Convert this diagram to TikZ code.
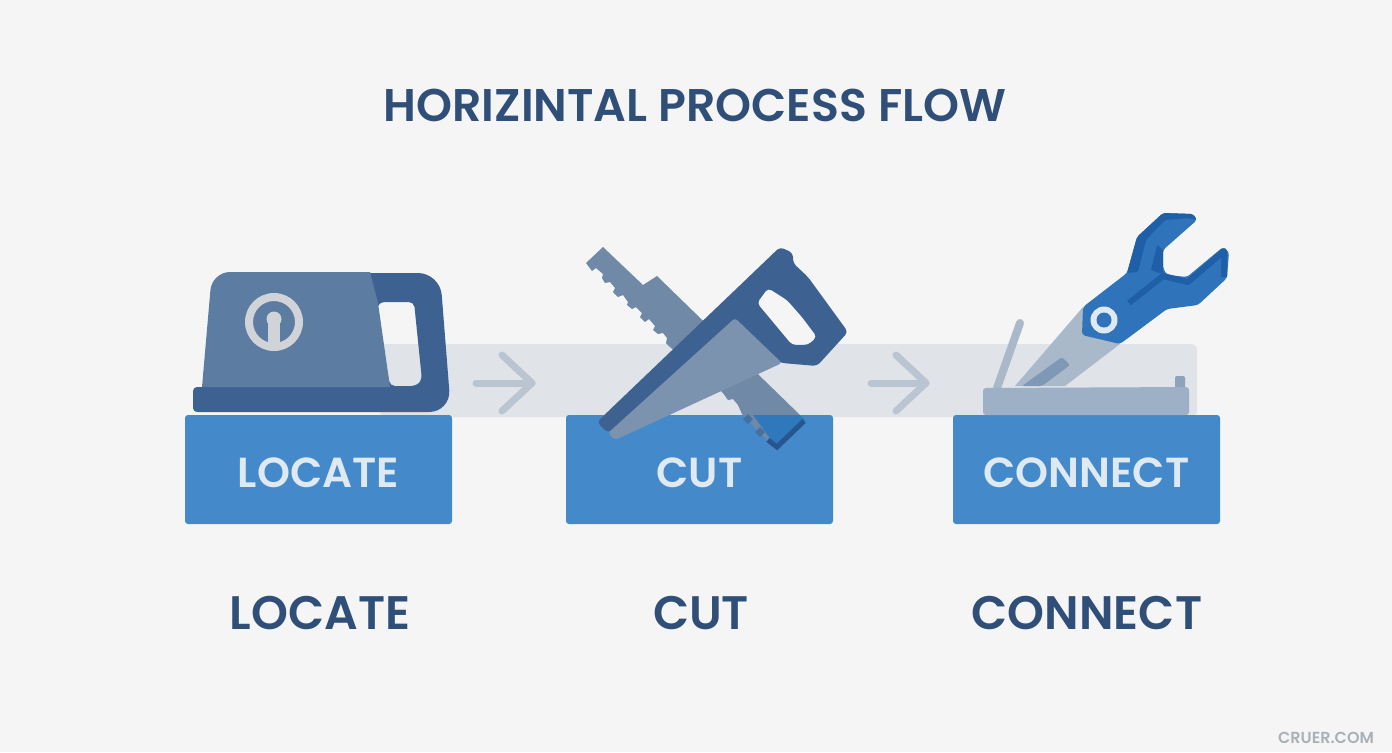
\documentclass[tikz,border=0pt]{standalone}
\usepackage{fontspec}
\setmainfont{Poppins SemiBold}
\definecolor{paper}{HTML}{F5F5F6}
\definecolor{band}{HTML}{E0E3E8}
\definecolor{chevron}{HTML}{BAC5D1}
\definecolor{boxblue}{HTML}{4489CA}
\definecolor{boxtext}{HTML}{DFE9F2}
\definecolor{navy}{HTML}{2F4F78}
\definecolor{toolbody}{HTML}{5D7CA1}
\definecolor{tooldark}{HTML}{3D6190}
\definecolor{ringgrey}{HTML}{D0D4D9}
\definecolor{sawback}{HTML}{7089A6}
\definecolor{sawblade}{HTML}{7B93AE}
\definecolor{sawtip}{HTML}{2F78BB}
\definecolor{sawgrip}{HTML}{27568F}
\definecolor{sawtooth}{HTML}{46719F}
\definecolor{barblue}{HTML}{9DB0C5}
\definecolor{pegblue}{HTML}{8EA3BA}
\definecolor{bladegrey}{HTML}{A9B9CA}
\definecolor{slotblue}{HTML}{7E98B5}
\definecolor{headblue}{HTML}{2F74BB}
\definecolor{headdark}{HTML}{1F5FA8}
\definecolor{mark}{HTML}{A9B1B8}
\begin{document}
\begin{tikzpicture}[
	                  x = 0.5pt,
	                  y = -0.5pt,
	 labelbox/.style = {fill=boxblue, rounded corners=1.5pt, minimum width=133.5pt, minimum height=54.5pt, inner sep=0pt, text=boxtext, text height=17.5pt, text depth=0pt, font=\fontsize{21}{21}\selectfont},
	 steptext/.style = {text=navy, inner sep=0pt, font=\fontsize{23.5}{23.5}\selectfont},
	  flowarr/.style = {draw=chevron, line width=3.5pt, line cap=round, line join=round},
	                     ]
		\fill[paper] (0,0) rectangle (1392,752);
		\useasboundingbox (0,0) rectangle (1392,752);
		\node[text=navy, inner sep=0pt, font=\fontsize{22.9}{22.9}\selectfont] (title) at (695,105) {HORIZINTAL PROCESS FLOW};
		% band behind the tools
		\fill[band, rounded corners=3pt] (380,344) rectangle (1197,417);
		\coordinate (arrowAfrom) at (476,383);
		\coordinate (arrowAto) at (532,383);
		\coordinate (arrowBfrom) at (871,383);
		\coordinate (arrowBto) at (926,383);
		\draw[flowarr] (arrowAfrom) -- (arrowAto);
		\draw[flowarr] ([shift={(-30,-28)}]arrowAto) -- (arrowAto) -- ([shift={(-30,28)}]arrowAto);
		\draw[flowarr] (arrowBfrom) -- (arrowBto);
		\draw[flowarr] ([shift={(-30,-28)}]arrowBto) -- (arrowBto) -- ([shift={(-30,28)}]arrowBto);
		\node[labelbox] (locate) at (318.5,469.5) {LOCATE};
		\node[labelbox] (cut) at (699.5,469.5) {CUT};
		\node[labelbox] (connect) at (1086.5,469.5) {CONNECT};
		\node[steptext] (locatetext) at (320,613) {LOCATE};
		\node[steptext] (cuttext) at (701,613) {CUT};
		\node[steptext] (connecttext) at (1087,613) {CONNECT};
		% locate tool
		\fill[tooldark, even odd rule]
			[rounded corners=11pt] (360,273) -- (440,273) -- (451,412) -- (360,412) [rounded corners=2pt] -- (193,412) -- (193,387) -- (360,387) -- cycle
			[rounded corners=2.5pt] (379,302) -- (414,302) -- (422,380) -- (416,386) -- (390,386) -- (376,312) -- cycle;
		\fill[toolbody, rounded corners=9pt] (202,387) -- (212,272) [sharp corners] -- (370,272) -- (378,303) -- (390,387) -- cycle;
		\fill[ringgrey, even odd rule] (274,322) circle[radius=29] (274,322) circle[radius=21];
		\fill[ringgrey] (274,319) circle[radius=7.5];
		\fill[ringgrey] (268,319) rectangle (280,345);
		% cut tool
		\fill[sawback] (603,247) -- (586,263) -- (592,271) -- (596,268) -- (603,274) -- (602,278) -- (605,283) -- (610,282) -- (615,288) -- (613,292) -- (618,297) -- (623,295) -- (628,302) -- (627,305) -- (632,309) -- (636,307) -- (642,313) -- (640,317) -- (645,322) -- (649,319) -- (655,326) -- (653,330) -- (658,334) -- (663,333) -- (667,338) -- (666,343) -- (670,347) -- (723,393) -- (728,400) -- (733,399) -- (738,405) -- (742,414) -- (767,440) -- (800,415) -- (657,276) -- (643,285) -- cycle;
		\fill[sawtip] (753,415) -- (800,415) -- (805,420) -- (777,448) -- cycle;
		\fill[sawtooth] (748,414) -- (753,419) -- (748,424) -- (743,419) -- cycle;
		\fill[sawtooth] (760,427) -- (765,432) -- (760,437) -- (755,432) -- cycle;
		\draw[sawgrip, line width=2.5pt] (804,421) -- (777,447) -- (768,440);
		\fill[tooldark, even odd rule, rounded corners=2pt]
			(597,422) -- (780,247) -- (793,253) -- (793,263) -- (808,277) -- (848,332) -- (817,366) -- (782,363) -- (720,340) -- (608,433) -- cycle
			(768,288) -- (757,303) -- (792,345) -- (808,345) -- (817,337) -- (802,317) -- (787,300) -- cycle;
		\fill[sawblade, rounded corners=1.5pt] (735,318) -- (782,363) -- (615,440) -- (608,433) -- cycle;
		% connect tool
		\draw[bladegrey, line width=4pt, line cap=round] (1020,323) -- (997,388);
		\fill[pegblue, rounded corners=1pt] (1175,376) rectangle (1185,390);
		\fill[barblue, rounded corners=1.5pt] (983,388) -- (983,415) -- (1189,415) -- (1189,387) -- cycle;
		\fill[bladegrey] (1083,307) -- (1015,386) -- (1065,386) -- (1120,344) -- cycle;
		\fill[slotblue, rounded corners=1pt] (1062,357) -- (1070,365) -- (1042,386) -- (1022,386) -- cycle;
		\fill[headblue, rounded corners=1.5pt] (1083,307) -- (1127,273) -- (1137,237) -- (1163,213) -- (1193,214) -- (1197,220) -- (1163,250) -- (1163,268) -- (1167,275) -- (1187,277) -- (1223,247) -- (1229,252) -- (1227,278) -- (1198,305) -- (1167,309) -- (1120,344) -- (1082,335) -- cycle;
		\fill[headdark, rounded corners=1pt] (1127,273) -- (1137,237) -- (1163,213) -- (1193,214) -- (1197,220) -- (1188,218) -- (1165,220) -- (1146,240) -- (1138,272) -- cycle;
		\draw[headdark, line width=3pt, line join=round] (1129,303) -- (1163,276) -- (1188,282) -- (1224,251) -- (1224,277);
		\fill[headdark] (1163,250) -- (1157,245) -- (1151,270) -- (1163,274) -- cycle;
		\fill[boxtext] (1104,320) circle[radius=13.5];
		\fill[headblue] (1104,320) circle[radius=7.5];
		\node[text=mark, inner sep=0pt, font=\fontsize{8}{8}\selectfont] (watermark) at (1326,738) {CRUER.COM};
		\end{tikzpicture}
\end{document}
